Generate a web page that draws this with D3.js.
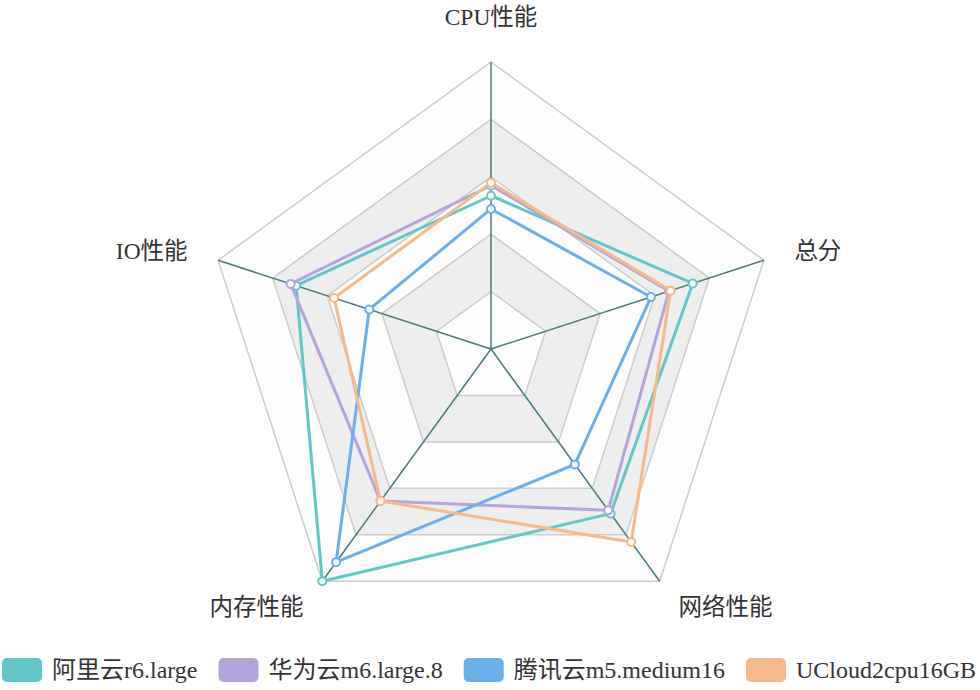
<!DOCTYPE html>
<html><head><meta charset="utf-8">
<script src="https://cdn.jsdelivr.net/npm/d3@7/dist/d3.min.js"></script>
<style>html,body{margin:0;padding:0;background:#fff;}svg{display:block;}</style>
</head><body>
<svg id="chart" width="980" height="690"></svg>
<script>
const indicators = ["CPU性能", "总分", "网络性能", "内存性能", "IO性能"];
const maxValue = 100;
const seriesNames = ["阿里云r6.large", "华为云m6.large.8", "腾讯云m5.medium16", "UCloud2cpu16GB"];
const aliyun = [53.4, 73.9, 70.9, 100, 71.4];
const huawei = [57.0, 65.2, 69.5, 65.5, 73.4];
const tencent = [48.8, 58.6, 49.7, 91.8, 44.6];
const ucloud = [57.9, 65.8, 83.1, 65.5, 57.5];
const colors = ["#62c6c8", "#b3a4db", "#6aaeea", "#f5b98a"];
const splitNumber = 5;

const seriesData = [aliyun, huawei, tencent, ucloud];
const font = "'Liberation Serif','Times New Roman','Noto Sans CJK SC',serif";
const svg = d3.select("#chart");
const cx = 491, cy = 349, R = 287;
const rScale = d3.scaleLinear().domain([0, maxValue]).range([0, R]);
const angle = d3.scaleLinear().domain([0, indicators.length]).range([-Math.PI / 2, 1.5 * Math.PI]);
const pt = (i, r) => [cx + r * Math.cos(angle(i)), cy + r * Math.sin(angle(i))];

const g = svg.append("g");
const ringVals = d3.range(1, splitNumber + 1).map(k => k * maxValue / splitNumber);
const areaColors = ["rgba(250,250,250,0.3)", "rgba(200,200,200,0.3)"];
ringVals.slice().reverse().forEach((v, idx) => {
  const k = splitNumber - 1 - idx;
  const outer = indicators.map((d, i) => pt(i, rScale(v)));
  const inner = k > 0 ? indicators.map((d, i) => pt(i, rScale(ringVals[k - 1]))) : null;
  let path = "M" + outer.map(p => p.join(",")).join("L") + "Z";
  if (inner) path += "M" + inner.slice().reverse().map(p => p.join(",")).join("L") + "Z";
  g.append("path").attr("d", path).attr("fill", areaColors[k % 2]).attr("fill-rule", "evenodd");
});
ringVals.forEach(v => {
  g.append("polygon")
    .attr("points", indicators.map((d, i) => pt(i, rScale(v)).join(",")).join(" "))
    .attr("fill", "none").attr("stroke", "#cccccc").attr("stroke-width", 1.5);
});
indicators.forEach((d, i) => {
  const p = pt(i, R);
  g.append("line").attr("x1", cx).attr("y1", cy).attr("x2", p[0]).attr("y2", p[1])
    .attr("stroke", "#467a80").attr("stroke-width", 1.5);
});
indicators.forEach((d, i) => {
  const a = angle(i);
  const p = pt(i, R + 32);
  const c = Math.cos(a), s = Math.sin(a);
  const anchor = Math.abs(c) < 1e-3 ? "middle" : (c > 0 ? "start" : "end");
  const t = g.append("text").attr("x", p[0]).attr("y", p[1]).text(d)
    .attr("text-anchor", anchor).attr("fill", "#333").attr("font-size", 23.5).attr("font-family", font);
  if (Math.abs(c) < 1e-3) t.attr("dy", s < 0 ? "-0.2em" : "0.9em");
  else t.attr("dy", "0.35em");
});
const line = d3.line().curve(d3.curveLinearClosed);
seriesData.forEach((vals, si) => {
  const pts = vals.map((v, i) => pt(i, rScale(v)));
  const sg = g.append("g");
  sg.append("path").attr("d", line(pts)).attr("fill", "none")
    .attr("stroke", colors[si]).attr("stroke-width", 3).attr("stroke-linejoin", "round");
  sg.selectAll("circle").data(pts).join("circle")
    .attr("cx", p => p[0]).attr("cy", p => p[1]).attr("r", 4)
    .attr("fill", "#fff").attr("stroke", colors[si]).attr("stroke-width", 2);
});
const lg = svg.append("g");
const sw = 40, sh = 24, gapText = 10, gapItem = 21, ly = 670;
let x = 0;
seriesNames.forEach((name, i) => {
  const it = lg.append("g");
  it.append("rect").attr("x", x).attr("y", ly - sh / 2).attr("width", sw).attr("height", sh)
    .attr("rx", 5).attr("fill", colors[i]);
  const t = it.append("text").attr("x", x + sw + gapText).attr("y", ly).attr("dy", "0.35em")
    .text(name).attr("fill", "#333").attr("font-size", 24).attr("font-family", font);
  const w = t.node().getComputedTextLength();
  x += sw + gapText + w + gapItem;
});
const total = x - gapItem;
lg.attr("transform", `translate(${489 - total / 2},0)`);
</script>
</body></html>
